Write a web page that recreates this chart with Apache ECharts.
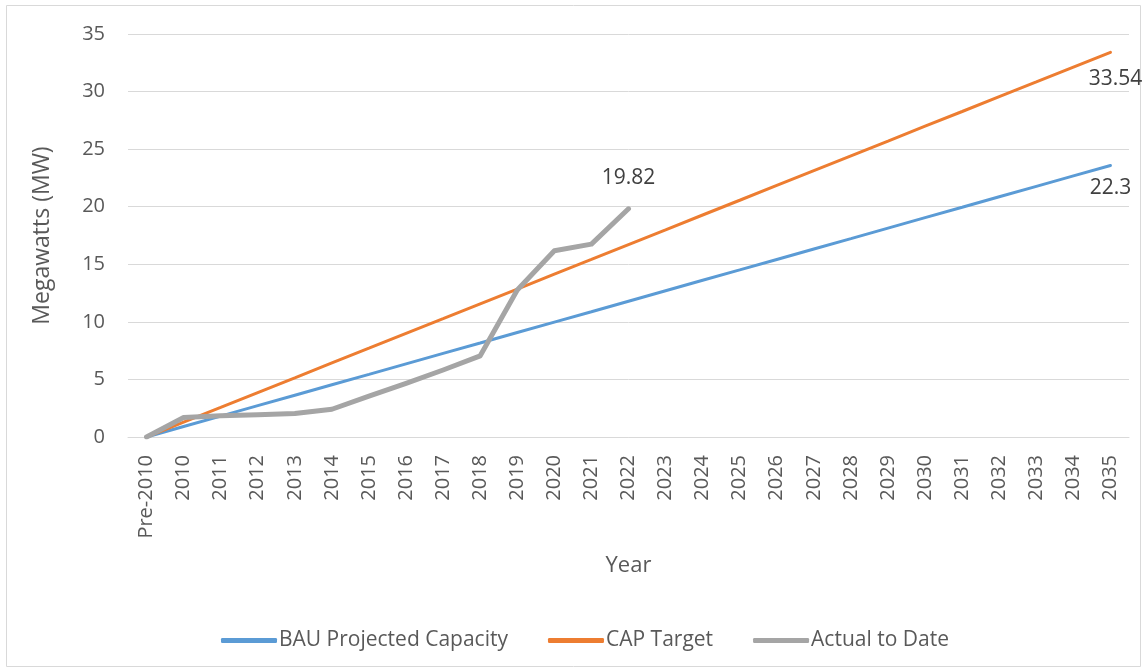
<!DOCTYPE html>
<html>
<head>
<meta charset="utf-8">
<script src="https://cdn.jsdelivr.net/npm/echarts@6/dist/echarts.min.js"></script>
<style>
  html,body{margin:0;padding:0;background:#fff;}
  #chart{width:1147px;height:672px;}
</style>
</head>
<body>
<div id="chart"></div>
<script>
// categories
var years = ['Pre-2010','2010','2011','2012','2013','2014','2015','2016','2017','2018','2019','2020','2021','2022',
  '2023','2024','2025','2026','2027','2028','2029','2030','2031','2032','2033','2034','2035'];

// series values
var bauValues = [0, 0.91, 1.81, 2.72, 3.63, 4.54, 5.44, 6.35, 7.26, 8.16, 9.07, 9.98, 10.88, 11.79,
  12.70, 13.61, 14.51, 15.42, 16.33, 17.23, 18.14, 19.05, 19.95, 20.86, 21.77, 22.68, 23.58];
var capValues = [0, 1.29, 2.57, 3.86, 5.14, 6.43, 7.71, 9.00, 10.28, 11.57, 12.85, 14.14, 15.42, 16.71,
  17.99, 19.28, 20.56, 21.85, 23.13, 24.42, 25.70, 26.99, 28.27, 29.56, 30.84, 32.13, 33.41];
var actualValues = [0, 1.70, 1.84, 1.93, 2.04, 2.41, 3.55, 4.66, 5.82, 7.05, 12.77, 16.18, 16.75, 19.82];

// text printed at the end of each line
var endLabels = ['22.3', '33.54', '19.82'];
var seriesNames = ['BAU Projected Capacity', 'CAP Target', 'Actual to Date'];

var font = 'Open Sans';

function withEndLabel(values, text, pos, dist, off) {
  var out = [];
  for (var i = 0; i < values.length; i++) {
    if (i == values.length - 1) {
      out.push({
        value: values[i],
        label: {
          show: true, position: pos, distance: dist, offset: off,
          formatter: function(){ return text; },
          color: '#404040', fontSize: 21, fontFamily: font
        }
      });
    } else {
      out.push(values[i]);
    }
  }
  return out;
}

var myChart = echarts.init(document.getElementById('chart'));
var option = {
  animation: false,
  color: ['#5B9BD5', '#ED7D31', '#A5A5A5'],
  graphic: [{
    type: 'rect',
    shape: {x: 6.5, y: 5.5, width: 1134, height: 661},
    style: {fill: 'none', stroke: '#D9D9D9', lineWidth: 1}
  }],
  grid: {left: 128, right: 18, top: 34, bottom: 235},
  legend: {
    top: 625,
    left: 216,
    itemWidth: 56,
    itemHeight: 5,
    itemGap: 40,
    icon: 'roundRect',
    textStyle: {color: '#595959', fontSize: 21, fontFamily: font, padding: [0, 0, 0, -3]},
    data: seriesNames
  },
  xAxis: {
    type: 'category',
    data: years,
    boundaryGap: true,
    name: 'Year',
    nameLocation: 'middle',
    nameGap: 118,
    nameTextStyle: {color: '#595959', fontSize: 22, fontFamily: font},
    axisLine: {lineStyle: {color: '#D9D9D9', width: 1}},
    axisTick: {show: false},
    axisLabel: {rotate: 90, interval: 0, margin: 18, color: '#595959', fontSize: 20, fontFamily: font}
  },
  yAxis: {
    type: 'value',
    min: 0,
    max: 35,
    interval: 5,
    name: 'Megawatts (MW)',
    nameLocation: 'middle',
    nameGap: 74,
    nameTextStyle: {color: '#595959', fontSize: 23, fontFamily: font},
    axisLine: {show: false},
    axisTick: {show: false},
    axisLabel: {margin: 23, color: '#595959', fontSize: 20, fontFamily: font},
    splitLine: {lineStyle: {color: '#D9D9D9', width: 1}}
  },
  series: [{
    name: seriesNames[0],
    type: 'line',
    symbol: 'circle',
    symbolSize: 0,
    lineStyle: {width: 3, cap: 'round'},
    data: withEndLabel(bauValues, endLabels[0], 'bottom', 12, [0, 0])
  }, {
    name: seriesNames[1],
    type: 'line',
    symbol: 'circle',
    symbolSize: 0,
    lineStyle: {width: 3, cap: 'round'},
    data: withEndLabel(capValues, endLabels[1], 'bottom', 16, [5, 0])
  }, {
    name: seriesNames[2],
    type: 'line',
    symbol: 'circle',
    symbolSize: 0,
    lineStyle: {width: 5, cap: 'round', join: 'round'},
    data: withEndLabel(actualValues, endLabels[2], 'top', 20, [0, 0])
  }]
};
myChart.setOption(option);
</script>
</body>
</html>
